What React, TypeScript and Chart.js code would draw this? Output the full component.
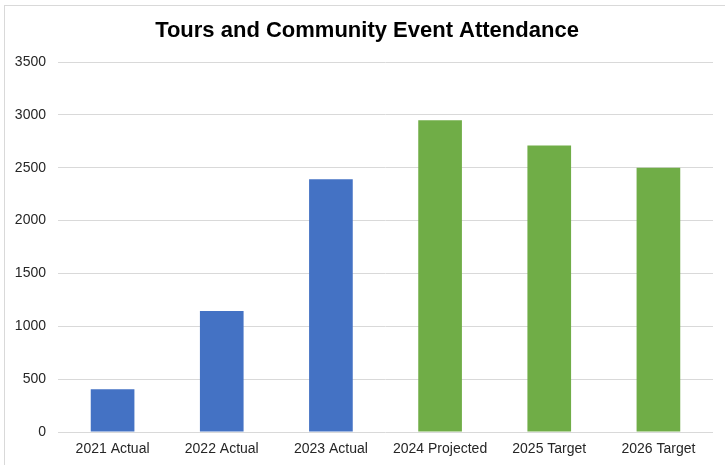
import React, { useEffect, useRef } from "react";
import { Chart, registerables } from "chart.js";

Chart.register(...registerables);

const categories = ["2021 Actual", "2022 Actual", "2023 Actual", "2024 Projected", "2025 Target", "2026 Target"];
const attendance = [405, 1145, 2390, 2950, 2710, 2500];
const kinds = ["actual", "actual", "actual", "plan", "plan", "plan"];
const yTicks = [0, 500, 1000, 1500, 2000, 2500, 3000, 3500];
const titleText = "Tours and Community Event Attendance";

const FONT = "'Liberation Sans', Arial, sans-serif";

export default function App() {
  const ref = useRef<HTMLCanvasElement | null>(null);

  useEffect(() => {
    if (!ref.current) return;
    const chart = new Chart(ref.current, {
      type: "bar",
      data: {
        labels: categories,
        datasets: [
          {
            data: attendance,
            backgroundColor: kinds.map((k) => (k === "actual" ? "#4472C4" : "#70AD47")),
            borderWidth: 0,
            categoryPercentage: 1,
            barPercentage: 0.4,
          },
        ],
      },
      options: {
        animation: false,
        responsive: false,
        maintainAspectRatio: false,
        layout: { padding: { left: 21, right: 12, top: 0, bottom: 0 } },
        plugins: {
          legend: { display: false },
          tooltip: { enabled: false },
          title: {
            display: true,
            text: titleText,
            color: "#000",
            font: { family: FONT, size: 22, weight: "bold" },
            padding: { top: 18, bottom: 17.6 },
          },
        },
        scales: {
          x: {
            grid: { display: false, drawTicks: false },
            border: { display: false },
            ticks: {
              color: "#262626",
              font: { family: FONT, size: 14 },
              padding: 9,
              maxRotation: 0,
              autoSkip: false,
            },
            afterFit: (s: any) => {
              s.height = 33;
            },
          },
          y: {
            min: 0,
            max: 3500,
            afterBuildTicks: (s: any) => {
              s.ticks = yTicks.map((v) => ({ value: v }));
            },
            grid: { color: "#d9d9d9", lineWidth: 1, drawTicks: false },
            border: { display: false },
            ticks: {
              color: "#262626",
              font: { family: FONT, size: 14 },
              padding: 12,
              callback: (v: any) => String(v),
            },
            afterFit: (s: any) => {
              s.width = 37;
              s._computeLabelArea = () => undefined;
            },
          },
        },
      },
    });
    return () => chart.destroy();
  }, []);

  return (
    <div style={{ position: "fixed", left: 0, top: 0, width: 725, height: 465, background: "#fff", overflow: "hidden" }}>
      <div
        style={{
          position: "absolute",
          left: 4,
          top: 5,
          width: 740,
          height: 480,
          border: "1px solid #d9d9d9",
          boxSizing: "border-box",
        }}
      />
      <canvas ref={ref} width={725} height={465} style={{ position: "absolute", left: 0, top: 0, display: "block" }} />
    </div>
  );
}
